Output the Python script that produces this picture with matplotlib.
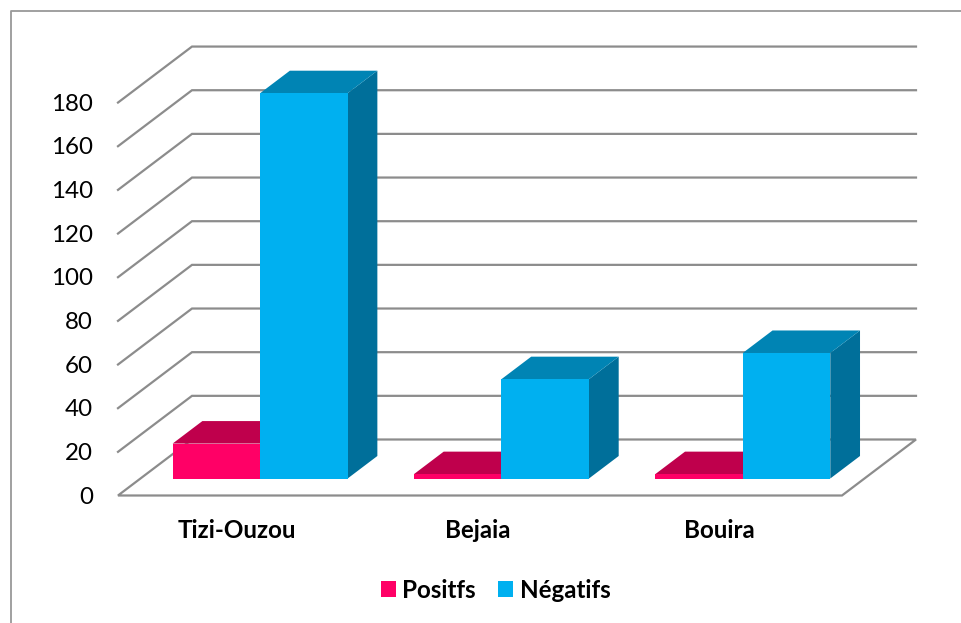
import matplotlib
matplotlib.use("Agg")
import matplotlib.pyplot as plt
from matplotlib.patches import Polygon, Patch

plt.rcParams['font.family'] = ['Lato', 'DejaVu Sans']

categories = ["Tizi-Ouzou", "Bejaia", "Bouira"]
positifs = [16, 2, 2]
negatifs = [176.5, 45.5, 57.5]
y_ticks = [0, 20, 40, 60, 80, 100, 120, 140, 160, 180]
series_names = ["Positfs", "Négatifs"]

W, H = 962, 623
CAT_W = 241.33      # pixels per category
PX_PER_UNIT = 2.183 # pixels per value unit
X0, Y0 = 118, 495.5 # where category 0 / value 0 sits

# depth of the floor and of a bar, in data units
DX = 74 / CAT_W
DY = 56 / PX_PER_UNIT
BAR_D = 22.5 / 56
BAR_START = 17 / 56
BAR_W = 87.5 / CAT_W

GRID = "#8c8c8c"
RED = ("#ff0066", "#bf004c")
BLUE = ("#00b0f0", "#0084b4", "#006f9a")


def proj(x, y, d=0.0):
    return (x + d * DX, y + d * DY)


fig = plt.figure(figsize=(W / 100, H / 100), dpi=100)
ax = fig.add_axes([0, 0, 1, 1])
ax.set_xlim(-X0 / CAT_W, (W - X0) / CAT_W)
ax.set_ylim(-(H - Y0) / PX_PER_UNIT, Y0 / PX_PER_UNIT)
ax.axis("off")

# outer frame, the bottom and right sides run off the edge
fig.add_artist(plt.Line2D([10.5 / W, 10.5 / W, 1], [0, 1 - 10.5 / H, 1 - 10.5 / H],
                          color="#999999", lw=1.3))

# floor
n = len(categories)
floor = [proj(0, 0), proj(0, 0, 1), proj(n, 0, 1), proj(n, 0)]
ax.add_patch(Polygon(floor, closed=True, fc="white", ec=GRID, lw=1.6, zorder=1, joinstyle="miter"))

# grid lines on the side wall and the back wall
for v in y_ticks[1:]:
    pts = [proj(0, v), proj(0, v, 1), proj(n, v, 1)]
    ax.plot(*zip(*pts), color=GRID, lw=1.6, zorder=1, solid_joinstyle="miter")

for v in y_ticks:
    ax.text(-25 / CAT_W, v - 0.8, str(v), ha="right", va="center", fontsize=17.4, color="black")


def bar3d(x, v, colors, z):
    b0, b1 = BAR_START, BAR_START + BAR_D
    front = [proj(x, 0, b0), proj(x + BAR_W, 0, b0), proj(x + BAR_W, v, b0), proj(x, v, b0)]
    top = [proj(x, v, b0), proj(x + BAR_W, v, b0), proj(x + BAR_W, v, b1), proj(x, v, b1)]
    side = [proj(x + BAR_W, 0, b0), proj(x + BAR_W, 0, b1), proj(x + BAR_W, v, b1), proj(x + BAR_W, v, b0)]
    ax.add_patch(Polygon(side, closed=True, fc=colors[-1], ec="none", zorder=z))
    ax.add_patch(Polygon(top, closed=True, fc=colors[1], ec="none", zorder=z))
    ax.add_patch(Polygon(front, closed=True, fc=colors[0], ec="none", zorder=z))


for i in range(n):
    left = i + 0.5 - BAR_W - 1 / CAT_W
    bar3d(left, positifs[i], RED, 2 + i * 2)
    bar3d(left + BAR_W, negatifs[i], BLUE, 3 + i * 2)
    ax.text(i + 0.5 - 2 / CAT_W, -16.2, categories[i], ha="center", va="center",
            fontsize=17.4, fontweight="bold", color="black")

handles = [Patch(fc=RED[0]), Patch(fc=BLUE[0])]
ax.legend(handles, series_names, loc="center", bbox_to_anchor=(495.5 / W, 1 - 590 / H),
          ncol=2, frameon=False, prop={"size": 17.4, "weight": "bold"},
          handlelength=0.62, handleheight=0.62, handletextpad=0.28, columnspacing=0.9)

fig.savefig("out.png", dpi=100)
